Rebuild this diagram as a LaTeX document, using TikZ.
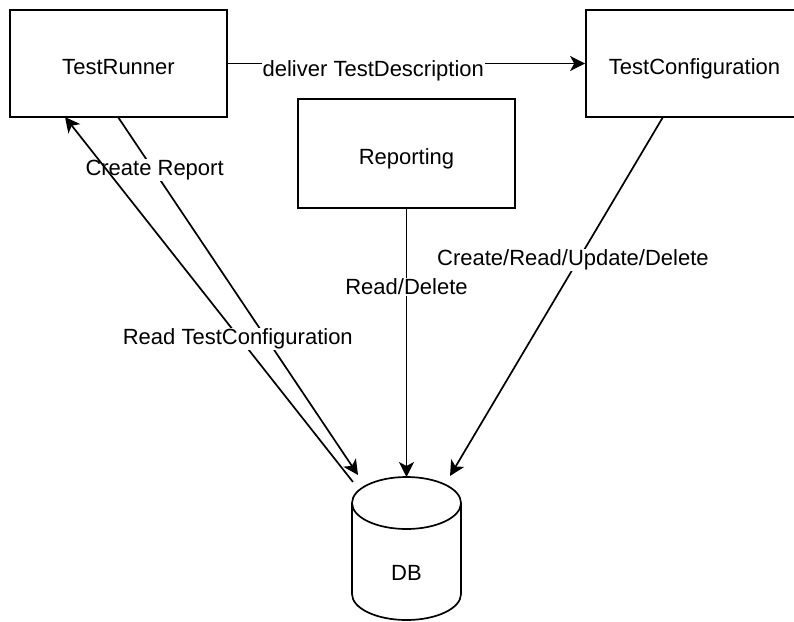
\documentclass[tikz,border=0pt]{standalone}
\usepackage{fontspec}
\setmainfont{Liberation Sans}
\usetikzlibrary{arrows.meta}
\begin{document}
\begin{tikzpicture}[x=1pt,y=-1pt,
  box/.style={draw, line width=1.7pt, minimum width=217pt, minimum height=107pt, inner sep=0pt,
    text height=22.4pt, text depth=0pt, font=\fontsize{22}{26}\selectfont},
  conn/.style={line width=1.7pt, -{Stealth[length=15pt,width=15pt,inset=4pt]}},
  lbl/.style={fill=white, inner sep=1pt, font=\fontsize{22}{26}\selectfont},
  cyl/.style={line width=1.7pt}]
\useasboundingbox (0,0) rectangle (794,621);
% boxes
\node[box] (tr) at (118.5,63.5) {TestRunner};
\node[box] (tc) at (694.5,63.5) {TestConfiguration};
\node[box, minimum height=109pt] (rp) at (406.5,153.5) {Reporting};
% database cylinder
\draw[cyl] (352,503) -- (352,594) arc[start angle=180, end angle=360, x radius=54.5pt, y radius=26pt] -- (461,503);
\draw[cyl] (406.5,503) ellipse [x radius=54.5pt, y radius=26pt];
\node[font=\fontsize{22}{26}\selectfont] (db) at (406.5,573) {DB};
% connector end points
\coordinate (trL) at (65,117);
\coordinate (trR) at (118,117);
\coordinate (tcB) at (663,117);
\coordinate (dbA) at (358,475);
\coordinate (dbB) at (353,482);
\coordinate (dbC) at (406.5,477);
\coordinate (dbD) at (450,476);
% connectors
\draw[conn] (tr.east) -- node[lbl, pos=0.407, yshift=-7.5pt] {deliver TestDescription} (tc.west);
\draw[conn] (trR) -- node[lbl, pos=0.14, xshift=3pt, yshift=-3pt] {Create Report} (dbA);
\draw[conn] (dbB) -- node[lbl, pos=0.4, yshift=-3pt] {Read TestConfiguration} (trL);
\draw[conn] (rp.south) -- node[lbl, pos=0.283, yshift=-2pt] {Read/Delete} (dbC);
\draw[conn] (tcB) -- node[lbl, pos=0.39, xshift=-7pt, yshift=-3pt] {Create/Read/Update/Delete} (dbD);
\end{tikzpicture}
\end{document}
